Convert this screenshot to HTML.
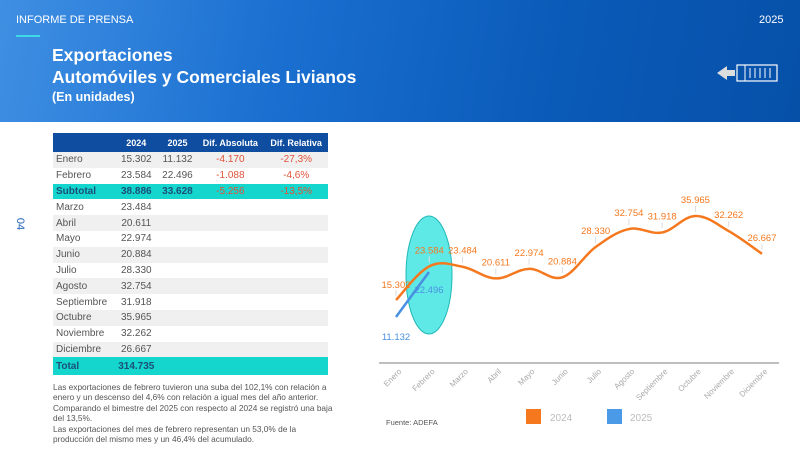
<!DOCTYPE html>
<html><head><meta charset="utf-8"><style>
body{margin:0;width:800px;height:450px;overflow:hidden;background:#fff;font-family:"Liberation Sans",sans-serif;position:relative}
.hdr{position:absolute;left:0;top:0;width:800px;height:122px;background:linear-gradient(100deg,#3f8fe3 0%,#1a6fd0 35%,#0a5ab8 70%,#0650a8 100%)}
.t{position:absolute;color:#fff}
table{position:absolute;left:53px;top:133px;width:275px;border-collapse:collapse;font-size:10px;color:#555}
td,th{height:15.8px;padding:0}
th{background:#0f4da0;color:#fff;font-size:9px;height:19px;text-align:center}
tr.g td{background:#f0f0f0}
td.m{padding-left:3px;width:58px}
td.c{text-align:center}
.r{color:#e0533a}
tr.s td{background:#14d6cc;color:#1b4f7a;font-weight:bold}
tr.s td.r{color:#e0533a;font-weight:normal}
.p{position:absolute;left:53px;font-size:8.3px;color:#555;line-height:10.3px;width:285px}
</style></head><body>
<div class="hdr"></div>
<div class="t" style="left:16px;top:14px;font-size:11px">INFORME DE PRENSA</div>
<div style="position:absolute;left:16px;top:35px;width:24px;height:2px;background:#3ed9e6"></div>
<div class="t" style="left:759px;top:14px;font-size:11px">2025</div>
<div class="t" style="left:52px;top:45px;font-size:17.5px;font-weight:bold">Exportaciones</div>
<div class="t" style="left:52px;top:67px;font-size:17.5px;font-weight:bold">Automóviles y Comerciales Livianos</div>
<div class="t" style="left:52px;top:90px;font-size:12.5px;font-weight:bold">(En unidades)</div>
<svg style="position:absolute;left:715px;top:60px" width="66" height="26"><polygon points="2,13 12,6 12,10 20,10 20,16 12,16 12,20" fill="#ddd"/><rect x="22" y="5" width="40" height="16" fill="none" stroke="#fff" stroke-width="1.2"/><line x1="30" y1="5" x2="30" y2="21" stroke="#fff"/><g stroke="#fff" stroke-width="1"><line x1="35" y1="8" x2="35" y2="18"/><line x1="40" y1="8" x2="40" y2="18"/><line x1="45" y1="8" x2="45" y2="18"/><line x1="50" y1="8" x2="50" y2="18"/><line x1="55" y1="8" x2="55" y2="18"/></g></svg>
<div style="position:absolute;left:14px;top:218px;color:#1a5fb4;font-size:11px;transform:rotate(90deg)">04</div>
<table>
<tr><th></th><th>2024</th><th>2025</th><th>Dif. Absoluta</th><th>Dif. Relativa</th></tr>
<tr class="g"><td class="m">Enero</td><td class="c">15.302</td><td class="c">11.132</td><td class="c r">-4.170</td><td class="c r">-27,3%</td></tr>
<tr><td class="m">Febrero</td><td class="c">23.584</td><td class="c">22.496</td><td class="c r">-1.088</td><td class="c r">-4,6%</td></tr>
<tr class="s"><td class="m">Subtotal</td><td class="c">38.886</td><td class="c">33.628</td><td class="c r">-5.256</td><td class="c r">-13,5%</td></tr>
<tr><td class="m">Marzo</td><td class="c">23.484</td><td></td><td></td><td></td></tr>
<tr class="g"><td class="m">Abril</td><td class="c">20.611</td><td></td><td></td><td></td></tr>
<tr><td class="m">Mayo</td><td class="c">22.974</td><td></td><td></td><td></td></tr>
<tr class="g"><td class="m">Junio</td><td class="c">20.884</td><td></td><td></td><td></td></tr>
<tr><td class="m">Julio</td><td class="c">28.330</td><td></td><td></td><td></td></tr>
<tr class="g"><td class="m">Agosto</td><td class="c">32.754</td><td></td><td></td><td></td></tr>
<tr><td class="m">Septiembre</td><td class="c">31.918</td><td></td><td></td><td></td></tr>
<tr class="g"><td class="m">Octubre</td><td class="c">35.965</td><td></td><td></td><td></td></tr>
<tr><td class="m">Noviembre</td><td class="c">32.262</td><td></td><td></td><td></td></tr>
<tr class="g"><td class="m">Diciembre</td><td class="c">26.667</td><td></td><td></td><td></td></tr>
<tr class="s"><td class="m" style="height:18px">Total</td><td class="c">314.735</td><td></td><td></td><td></td></tr>
</table>
<div class="p" style="top:382px">Las exportaciones de febrero tuvieron una suba del 102,1% con relación a enero y un descenso del 4,6% con relación a igual mes del año anterior. Comparando el bimestre del 2025 con respecto al 2024 se registró una baja del 13,5%.</div>
<div class="p" style="top:424px">Las exportaciones del mes de febrero representan un 53,0% de la producción del mismo mes y un 46,4% del acumulado.</div>
<svg id="ch" style="position:absolute;left:0;top:0" width="800" height="450" font-family="Liberation Sans" font-size="9.5"></svg>
<script>
var v=[15302,23584,23484,20611,22974,20884,28330,32754,31918,35965,32262,26667];
var lab=["15.302","23.584","23.484","20.611","22.974","20.884","28.330","32.754","31.918","35.965","32.262","26.667"];
var m=["Enero","Febrero","Marzo","Abril","Mayo","Junio","Julio","Agosto","Septiembre","Octubre","Noviembre","Diciembre"];
function X(i){return 396+i*33.27}function Y(x){return 300-(x-15302)*0.004065}
var P=v.map(function(a,i){return [X(i),Y(a)]});
var d="M"+P[0][0]+","+P[0][1];
for(var i=0;i<P.length-1;i++){var p0=P[i-1]||P[i],p1=P[i],p2=P[i+1],p3=P[i+2]||p2;var t=0.18;
d+=" C"+(p1[0]+(p2[0]-p0[0])*t)+","+(p1[1]+(p2[1]-p0[1])*t)+" "+(p2[0]-(p3[0]-p1[0])*t)+","+(p2[1]-(p3[1]-p1[1])*t)+" "+p2[0]+","+p2[1];}
var s='<ellipse cx="429" cy="275" rx="23" ry="59" fill="#5ee8e6" stroke="#22b8b8" stroke-width="1"/>';
s+='<line x1="379" y1="363" x2="779" y2="363" stroke="#999" stroke-width="1.2"/>';
P.forEach(function(p,i){s+='<line x1="'+p[0]+'" y1="'+(p[1]-4)+'" x2="'+p[0]+'" y2="'+(p[1]-10)+'" stroke="#ddd"/>';});
s+='<path d="'+d+'" fill="none" stroke="#f5781e" stroke-width="2.5"/>';
s+='<line x1="396" y1="317" x2="429" y2="272" stroke="#4a90e2" stroke-width="2.5"/>';
P.forEach(function(p,i){var dy=i==0?-12:-13;s+='<text x="'+p[0]+'" y="'+(p[1]+dy)+'" text-anchor="middle" fill="#f5781e">'+lab[i]+'</text>';
s+='<text transform="translate('+(p[0]+6)+',372) rotate(-45)" text-anchor="end" fill="#aaa" font-size="8">'+m[i]+'</text>';});
s+='<text x="396" y="340" text-anchor="middle" fill="#4a90e2">11.132</text><text x="429" y="293" text-anchor="middle" fill="#4a90e2">22.496</text>';
s+='<rect x="526" y="409" width="15" height="15" fill="#f5781e"/><text x="550" y="421" fill="#bbb" font-size="10">2024</text>';
s+='<rect x="607" y="409" width="15" height="15" fill="#4a9ae8"/><text x="630" y="421" fill="#bbb" font-size="10">2025</text>';
s+='<text x="386" y="425" fill="#555" font-size="7.5">Fuente: ADEFA</text>';
document.getElementById("ch").innerHTML=s;
</script>
</body></html>
